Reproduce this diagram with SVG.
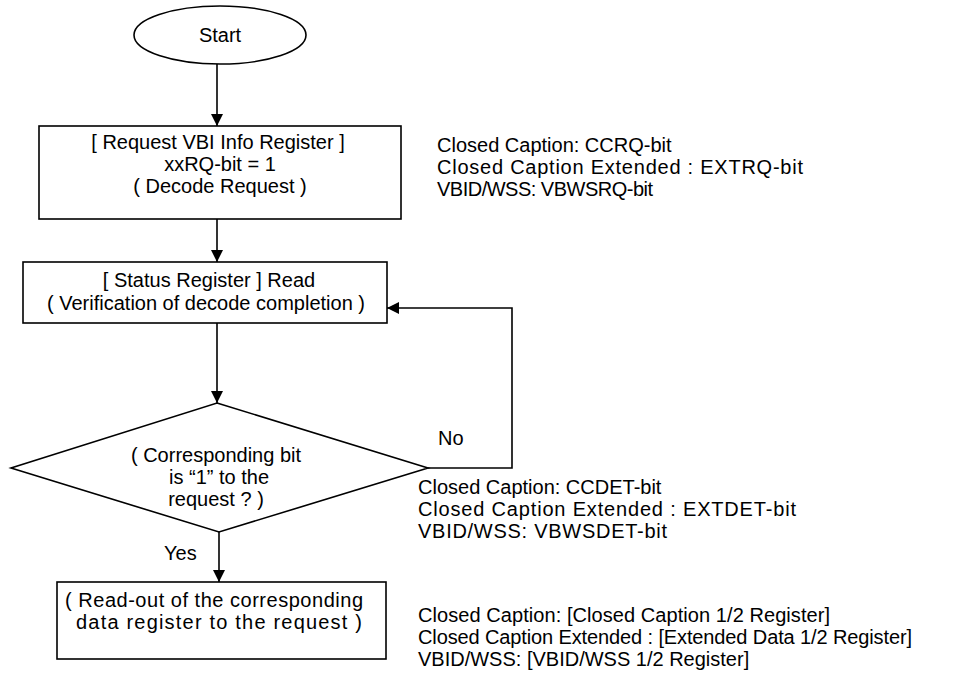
<svg xmlns="http://www.w3.org/2000/svg" width="966" height="681" viewBox="0 0 966 681">
<style>
text{font-family:"Liberation Sans",Arial,sans-serif;font-size:20px;fill:#000}
.c{text-anchor:middle}
.shape{fill:#fff;stroke:#000;stroke-width:1.6}
.conn{fill:none;stroke:#000;stroke-width:1.6}
</style>
<defs>
<marker id="arr" viewBox="0 0 12 12" refX="12" refY="6" markerWidth="12" markerHeight="12" markerUnits="userSpaceOnUse" orient="auto">
<path d="M0,0 L12,6 L0,12 Z" fill="#000"/>
</marker>
</defs>
<rect width="966" height="681" fill="#fff"/>
<g id="connectors">
<line class="conn" x1="217" y1="64" x2="217" y2="126" marker-end="url(#arr)"/>
<line class="conn" x1="217" y1="219" x2="217" y2="262" marker-end="url(#arr)"/>
<line class="conn" x1="217" y1="323" x2="217" y2="403" marker-end="url(#arr)"/>
<polyline class="conn" points="428,468 512,468 512,308 387,308" marker-end="url(#arr)"/>
<line class="conn" x1="219" y1="532" x2="219" y2="582" marker-end="url(#arr)"/>
<text x="438" y="445">No</text>
<text x="164" y="560">Yes</text>
</g>
<g id="start">
<ellipse class="shape" cx="220" cy="35" rx="86" ry="29"/>
<text class="c" x="220" y="42">Start</text>
</g>
<g id="request">
<rect class="shape" x="39" y="126" width="362" height="93"/>
<text class="c" x="218" y="149">[ Request VBI Info Register ]</text>
<text class="c" x="220" y="171">xxRQ-bit = 1</text>
<text class="c" x="220" y="193">( Decode Request  )</text>
</g>
<g id="status">
<rect class="shape" x="23" y="262" width="364" height="61"/>
<text class="c" x="209" y="287">[ Status Register ] Read</text>
<text class="c" x="206" y="310">( Verification of decode completion )</text>
</g>
<g id="decision">
<polygon class="shape" points="217,403 428,468 219,532 11,468"/>
<text class="c" x="216" y="462">( Corresponding bit</text>
<text class="c" x="219" y="484">is “1” to the</text>
<text class="c" x="216" y="506">request ? )</text>
</g>
<g id="readout">
<rect class="shape" x="57" y="582" width="329" height="77"/>
<text x="65" y="607" textLength="298" lengthAdjust="spacing">( Read-out of the corresponding</text>
<text x="76" y="629" textLength="286" lengthAdjust="spacing">data register to the request )</text>
</g>
<g id="note-request">
<text x="437" y="152">Closed Caption: CCRQ-bit</text>
<text x="437" y="174" textLength="366" lengthAdjust="spacing">Closed Caption Extended : EXTRQ-bit</text>
<text x="437" y="196" textLength="216" lengthAdjust="spacing">VBID/WSS: VBWSRQ-bit</text>
</g>
<g id="note-detect">
<text x="418" y="494">Closed Caption: CCDET-bit</text>
<text x="418" y="516" textLength="378" lengthAdjust="spacing">Closed Caption Extended : EXTDET-bit</text>
<text x="418" y="538" textLength="249" lengthAdjust="spacing">VBID/WSS: VBWSDET-bit</text>
</g>
<g id="note-data">
<text x="418" y="622" textLength="412" lengthAdjust="spacing">Closed Caption: [Closed Caption 1/2 Register]</text>
<text x="418" y="644" textLength="494" lengthAdjust="spacing">Closed Caption Extended : [Extended Data 1/2 Register]</text>
<text x="418" y="666">VBID/WSS: [VBID/WSS 1/2 Register]</text>
</g>
</svg>
